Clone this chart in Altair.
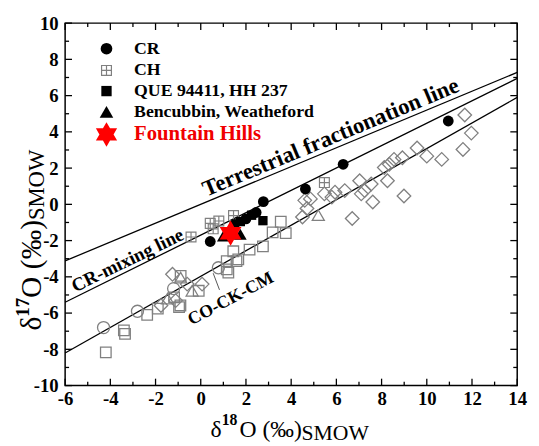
import altair as alt
import pandas as pd

FONT = "Liberation Serif"
W, H = 459, 368

# ---------------- data ----------------
cr_x = [0.42, 1.5, 2.0, 2.45, 2.77, 4.63, 6.3, 10.95]
cr_y = [-2.05, -1.1, -0.8, -0.45, 0.15, 0.85, 2.21, 4.6]
ch_x = [-0.43, 0.42, 0.8, 0.55, 1.45, 5.47]
ch_y = [-1.8, -1.05, -0.92, -1.35, -0.62, 1.2]
que_x = [1.75, 2.25, 2.75]
que_y = [-0.95, -0.6, -0.9]
ben_x = [1.0, 1.75]
ben_y = [-1.75, -1.65]
fh_x = [1.32]
fh_y = [-1.59]

circ_x = [-4.3, -2.8, -1.2, 0.78]
circ_y = [-6.8, -5.9, -4.65, -3.5]
sq_x = [-4.2, -3.4, -3.35, -2.37, -1.9, -1.18, -0.9, -0.96, -0.09, -0.89, 1.15, 1.15, 1.58,
        1.44, 1.66, 1.22, 2.16, 2.75, 3.18, 3.54, 3.76]
sq_y = [-8.17, -6.95, -7.15, -6.1, -5.75, -5.13, -5.58, -5.67, -4.77, -3.95, -3.59, -3.13, -3.13,
        -2.59, -3.04, -3.77, -2.5, -2.32, -1.55, -0.96, -1.59]
dia_x = [-1.25, -0.6, -1.11, -1.76, 0.06, 4.5, 4.6, 4.85, 4.7, 5.47, 5.94, 6.37, 5.8, 6.7,
         7.03, 7.25, 7.54, 7.1, 7.61, 8.12, 8.34, 8.26, 8.55, 8.92, 8.99, 9.57, 10.0, 10.66,
         11.6, 11.97, 11.68]
dia_y = [-3.86, -4.4, -5.31, -5.58, -4.4, -0.7, 0.22, 0.3, -0.23, 0.58, 0.67, 0.76, 0.4, -0.78,
         1.3, 0.76, 1.12, 0.58, 0.13, 2.03, 2.21, 1.3, 2.48, 2.57, 0.46, 3.11, 2.66, 2.48,
         3.03, 3.93, 4.93]
tri_x = [5.2, -0.89, -1.47, -0.38]
tri_y = [-0.6, -4.04, -5.2, -4.77]

# reference lines: end points read at the frame edges
line_names = ["Terrestrial", "CR-mixing", "CO-CK-CM"]
line_x0 = [-6, -6, -6]
line_x1 = [14, 14, 14]
line_y0 = [-3.12, -5.4, -8.2]
line_y1 = [7.28, 6.95, 5.9]
leader_x = [0.55, 0.83]
leader_y = [-3.8, -4.72]

x_major = [-6, -4, -2, 0, 2, 4, 6, 8, 10, 12, 14]
x_minor = [-5, -3, -1, 1, 3, 5, 7, 9, 11, 13]
y_major = [-10, -8, -6, -4, -2, 0, 2, 4, 6, 8, 10]
y_minor = [-9, -7, -5, -3, -1, 1, 3, 5, 7, 9]

legend_labels = ["CR", "CH", "QUE 94411, HH 237", "Bencubbin, Weatheford", "Fountain Hills"]

# ---------------- helpers ----------------
STAR = ("M0,-1L0.289,-0.5L0.866,-0.5L0.577,0L0.866,0.5L0.289,0.5L0,1L-0.289,0.5"
        "L-0.866,0.5L-0.577,0L-0.866,-0.5L-0.289,-0.5Z")
BOXCROSS = "M-1,-1L1,-1L1,1L-1,1Z M0,-1L0,1 M-1,0L1,0"
GRAY = "#808080"

xs = alt.Scale(domain=[-6, 14], nice=False, zero=False)
ys = alt.Scale(domain=[-10, 10], nice=False, zero=False)
lab = "datum.value < 0 ? '-' + abs(datum.value) : '' + datum.value"
xaxis = alt.Axis(values=x_major, labelExpr=lab, labelFont=FONT, labelFontSize=19,
                 labelFontWeight="bold", labelColor="black", ticks=False, tickSize=0,
                 domain=False, grid=False, labelPadding=4, labelOverlap=False, labelFlush=False)
yaxis = alt.Axis(values=y_major, labelExpr=lab, labelFont=FONT, labelFontSize=19,
                 labelFontWeight="bold", labelColor="black", ticks=False, tickSize=0,
                 domain=False, grid=False, labelPadding=7, labelOverlap=False, labelFlush=False)


def X(f):
    return alt.X(f"{f}:Q", scale=xs, axis=xaxis, title=None)


def Y(f):
    return alt.Y(f"{f}:Q", scale=ys, axis=yaxis, title=None)


def pts(xv, yv, **mk):
    df = pd.DataFrame({"x": xv, "y": yv})
    return alt.Chart(df).mark_point(opacity=1, **mk).encode(x=X("x"), y=Y("y"))


layers = []

# frame ticks (inward)
def ticks(vals, side, length):
    df = pd.DataFrame({"v": vals})
    base = alt.Chart(df).mark_rule(color="black", strokeWidth=1.3)
    if side == "bottom":
        return base.encode(x=X("v"), y=alt.value(H), y2=alt.value(H - length))
    if side == "top":
        return base.encode(x=X("v"), y=alt.value(0), y2=alt.value(length))
    if side == "left":
        return base.encode(y=Y("v"), x=alt.value(0), x2=alt.value(length))
    return base.encode(y=Y("v"), x=alt.value(W), x2=alt.value(W - length))


for side in ["bottom", "top"]:
    layers.append(ticks(x_major, side, 7))
    layers.append(ticks(x_minor, side, 4))
for side in ["left", "right"]:
    layers.append(ticks(y_major, side, 7))
    layers.append(ticks(y_minor, side, 4))

# reference lines
lines_df = pd.DataFrame({"name": line_names, "x0": line_x0, "x1": line_x1,
                         "y0": line_y0, "y1": line_y1})
layers.append(alt.Chart(lines_df).mark_rule(color="black", strokeWidth=1.3).encode(
    x=X("x0"), x2="x1:Q", y=Y("y0"), y2="y1:Q", detail="name:N"))
lead_df = pd.DataFrame({"x0": [leader_x[0]], "x1": [leader_x[1]],
                        "y0": [leader_y[0]], "y1": [leader_y[1]]})
layers.append(alt.Chart(lead_df).mark_rule(color="#555555", strokeWidth=1).encode(
    x=X("x0"), x2="x1:Q", y=Y("y0"), y2="y1:Q"))

# background (gray open) data
layers.append(pts(sq_x, sq_y, shape="square", filled=False, color=GRAY, size=115, strokeWidth=1.3))
layers.append(pts(dia_x, dia_y, shape="diamond", filled=False, color=GRAY, size=190, strokeWidth=1.3))
layers.append(pts(circ_x, circ_y, shape="circle", filled=False, color=GRAY, size=150, strokeWidth=1.3))
layers.append(pts(tri_x, tri_y, shape="triangle-up", filled=False, color=GRAY, size=150, strokeWidth=1.3))

# named groups
layers.append(pts(ch_x, ch_y, shape=BOXCROSS, filled=False, color=GRAY, size=100, strokeWidth=1.2))
layers.append(pts(ben_x, ben_y, shape="triangle-up", filled=True, color="black", size=170))
layers.append(pts(que_x, que_y, shape="square", filled=True, color="black", size=90))
layers.append(pts(cr_x, cr_y, shape="circle", filled=True, color="black", size=120))
layers.append(pts(fh_x, fh_y, shape=STAR, filled=True, color="#ff0000", size=650))


# annotations along lines (data coordinates)
def label(txt, x, y, angle, size, dy=0, baseline="alphabetic"):
    df = pd.DataFrame({"t": [txt], "x": [x], "y": [y]})
    return alt.Chart(df).mark_text(font=FONT, fontWeight="bold", fontSize=size, color="black",
                                   angle=angle, dy=dy, align="center", baseline=baseline).encode(
        x=X("x"), y=Y("y"), text="t:N")


layers.append(label("Terrestrial fractionation line", 5.95, 3.09, 337.4, 23, dy=-5))
layers.append(label("CR-mixing line", -3.05, -3.58, 334, 19, dy=-4))
layers.append(label("CO-CK-CM", 1.33, -5.22, 332, 18, baseline="middle"))


# pixel-placed texts (legend and axis titles)
def ptext(txt, px, py, size, weight="normal", color="black", align="left", angle=0,
          baseline="alphabetic"):
    df = pd.DataFrame({"t": [txt]})
    return alt.Chart(df).mark_text(font=FONT, fontSize=size, fontWeight=weight, color=color,
                                   align=align, angle=angle, baseline=baseline).encode(
        x=alt.value(px), y=alt.value(py), text="t:N")


def psym(px, py, shape, size, filled, color, sw=1.2):
    df = pd.DataFrame({"t": ["s"]})
    return alt.Chart(df).mark_point(shape=shape, size=size, filled=filled, color=color,
                                    opacity=1, strokeWidth=sw).encode(
        x=alt.value(px), y=alt.value(py))


leg_y = [26, 48, 69, 90, 113]
leg_sym = [("circle", 140, True, "black"), (BOXCROSS, 100, False, GRAY),
           ("square", 110, True, "black"), ("triangle-up", 190, True, "black"),
           (STAR, 620, True, "#ff0000")]
for i, lbl in enumerate(legend_labels):
    shp, sz, fl, col = leg_sym[i]
    layers.append(psym(42, leg_y[i], shp, sz, fl, col))
    if i == 4:
        layers.append(ptext(lbl, 70, leg_y[i], 21, "bold", "#f00000", baseline="middle"))
    else:
        layers.append(ptext(lbl, 70, leg_y[i], 18, "bold", "black", baseline="middle"))

# x axis title: δ18O (‰)SMOW
layers.append(ptext("δ", 159, 420, 24, align="right"))
layers.append(ptext("18", 159, 408, 16, "bold"))
layers.append(ptext("O (‰)", 177, 420, 24))
layers.append(ptext("SMOW", 240, 423, 22))
# y axis title: δ17O (‰)SMOW (rotated, larger in the reference)
layers.append(ptext("δ", -24, 298, 30, align="right", angle=270))
layers.append(ptext("17", -37, 298, 19, "bold", angle=270))
layers.append(ptext("O (‰)", -24, 279, 30, angle=270))
layers.append(ptext("SMOW", -21, 200, 23, angle=270))

chart = alt.layer(*layers).properties(
    width=W, height=H, autosize="none",
    padding={"left": 58, "top": 12, "right": 14, "bottom": 58},
    background="white",
).configure_view(stroke="black", strokeWidth=1.5)

chart.save("out.html", embed_options={"renderer": "svg", "actions": False})
